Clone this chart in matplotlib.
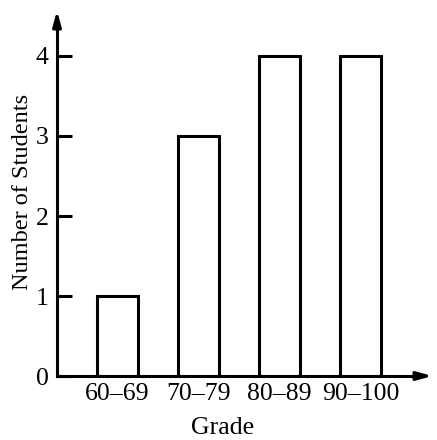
import matplotlib.pyplot as plt

grades = ['60–69', '70–79', '80–89', '90–100']
students = [1, 3, 4, 4]

plt.rcParams['font.family'] = ['Liberation Serif', 'DejaVu Serif']

fig = plt.figure(figsize=(4.37, 4.40), dpi=100)
ax = fig.add_axes([57 / 437, 64 / 440, 378 / 437, 368 / 440])

pos = list(range(len(grades)))
ax.bar(pos, students, width=0.5, facecolor='white', edgecolor='black', linewidth=2.2)

ax.set_xlim(-0.747, 3.92)
ax.set_ylim(0, 4.6)

for s in ['top', 'right']:
    ax.spines[s].set_visible(False)
for s in ['left', 'bottom']:
    ax.spines[s].set_linewidth(2.2)
ax.spines['left'].set_bounds(0, 4.45)
ax.spines['bottom'].set_bounds(-0.747, 3.78)

# arrowheads
ax.annotate('', xy=(3.92, 0), xytext=(3.70, 0),
            arrowprops=dict(arrowstyle='-|>,head_length=0.9,head_width=0.25', color='black', lw=2.2),
            annotation_clip=False)
ax.annotate('', xy=(-0.747, 4.6), xytext=(-0.747, 4.35),
            arrowprops=dict(arrowstyle='-|>,head_length=0.9,head_width=0.25', color='black', lw=2.2),
            annotation_clip=False)

ax.set_xticks(pos)
ax.set_xticklabels(grades)
ax.set_yticks([0, 1, 2, 3, 4])
ax.tick_params(axis='x', length=0, pad=5, labelsize=18.5)
ax.tick_params(axis='y', direction='in', length=11, width=2.2, pad=6, labelsize=18.5)

ax.set_xlabel('Grade', fontsize=18.5, labelpad=9, x=0.437)
ax.set_ylabel('Number of Students', fontsize=17.5, labelpad=2)

fig.savefig('out.png', dpi=100)
